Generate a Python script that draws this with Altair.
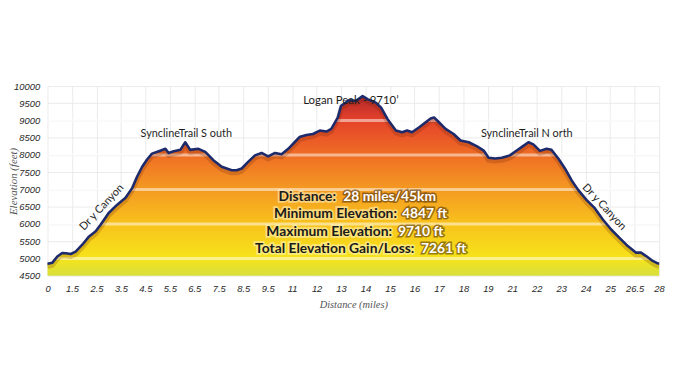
import altair as alt
import pandas as pd

# ---- data ----
tick_labels = ["0", "1.5", "2.5", "3.5", "4.5", "5.5", "6.5", "7.5", "8.5", "9.5",
               "11", "12", "13", "14", "15", "16", "17", "18", "19",
               "21", "22", "23", "24", "25", "26.5", "28"]

# position along the (evenly spaced) distance axis, in tick steps
pos = [0, 0.2, 0.4, 0.6, 0.75, 0.95, 1.15, 1.42, 1.7, 1.97, 2.17, 2.5, 2.85, 3.19,
       3.46, 3.66, 3.87, 4.07, 4.27, 4.55, 4.82, 4.95, 5.16, 5.43, 5.63, 5.83,
       6.17, 6.45, 6.78, 7.12, 7.53, 7.73, 7.94, 8.2, 8.48, 8.75, 9.02, 9.3,
       9.57, 9.84, 10.1, 10.3, 10.58, 10.85, 11.13, 11.4, 11.6, 11.87, 12.0,
       12.34, 12.61, 12.88, 13.08, 13.42, 13.63, 13.9, 14.24, 14.5, 14.7, 14.9,
       15.18, 15.46, 15.66, 15.8, 16.0, 16.27, 16.6, 16.88, 17.22, 17.56, 17.83,
       18.03, 18.3, 18.57, 18.9, 19.18, 19.38, 19.66, 19.86, 20.13, 20.4, 20.6,
       20.88, 21.15, 21.42, 21.69, 22.03, 22.37, 22.7, 23.04, 23.38, 23.72,
       24.06, 24.26, 24.47, 24.74, 24.94, 25.0]
elev = [4850, 4880, 5060, 5160, 5150, 5130, 5200, 5400, 5640, 5790, 5980, 6320,
        6560, 6760, 7040, 7370, 7660, 7870, 8040, 8110, 8180, 8060, 8110, 8150,
        8370, 8150, 8180, 8090, 7850, 7660, 7560, 7560, 7610, 7800, 7990, 8060,
        7960, 8060, 8020, 8180, 8370, 8520, 8580, 8610, 8710, 8680, 8760, 9090,
        9430, 9590, 9570, 9710, 9620, 9520, 9380, 9040, 8710, 8660, 8710, 8660,
        8800, 8950, 9060, 9090, 8950, 8760, 8610, 8420, 8370, 8250, 8130, 7920,
        7900, 7920, 7990, 8130, 8230, 8370, 8310, 8120, 8180, 8150, 7900, 7610,
        7270, 6990, 6700, 6460, 6130, 5840, 5600, 5360, 5170, 5170, 5070, 4930,
        4860, 4850]

stat_names = ["Distance:", "Minimum Elevation:", "Maximum Elevation:", "Total Elevation Gain/Loss:"]
stat_values = ["28 miles/45km", "4847 ft", "9710 ft", "7261 ft"]

place_names = ["Logan Peak - 9710\u2019", "SynclineTrail S outh", "SynclineTrail N orth"]

# ---- chart ----
W, H = 619, 192
YMIN, YMAX = 4500, 10000
df = pd.DataFrame({"pos": pos, "elev": elev})

label_expr = "[" + ",".join("'%s'" % t for t in tick_labels) + "][datum.value]"
xscale = alt.Scale(domain=[0, len(tick_labels) - 1], nice=False, zero=False)
yscale = alt.Scale(domain=[YMIN, YMAX], nice=False, zero=False)

X = alt.X("pos:Q", scale=xscale, axis=alt.Axis(
    values=list(range(len(tick_labels))), labelExpr=label_expr,
    title="Distance (miles)", labelOverlap=False))
Y = alt.Y("elev:Q", scale=yscale, axis=alt.Axis(
    values=list(range(YMIN, YMAX + 1, 500)), format="d",
    title="Elevation (feet)", labelOverlap=False,
    titleX=-34, titleY=H / 2, titleBaseline="middle", titleAngle=270))

def off(e):
    return (e - YMIN) / (max(elev) - YMIN)

grad = alt.Gradient(
    gradient="linear", x1=0, x2=0, y1=1, y2=0,
    stops=[
        alt.GradientStop(offset=0.0, color="#d6df3e"),
        alt.GradientStop(offset=off(5000), color="#f6e41a"),
        alt.GradientStop(offset=off(6000), color="#f8c21c"),
        alt.GradientStop(offset=off(7000), color="#f49a22"),
        alt.GradientStop(offset=off(8000), color="#ef6e25"),
        alt.GradientStop(offset=off(9000), color="#e5432a"),
        alt.GradientStop(offset=1.0, color="#b3272b"),
    ])

base = alt.Chart(df)
area = base.mark_area(color=grad, line=False).encode(x=X, y=Y, y2=alt.datum(YMIN))

bands = alt.Chart(pd.DataFrame({"elev": list(range(5000, 9001, 1000))})).mark_rule(
    color="white", strokeWidth=3, opacity=0.5).encode(y=Y)

shadow = base.transform_calculate(elev="datum.elev - 75").mark_line(
    color="#6a2406", strokeWidth=5, opacity=0.22, strokeJoin="round").encode(x=X, y=Y)

line = base.mark_line(color="#1d2a6b", strokeWidth=2.6, strokeJoin="round").encode(x=X, y=Y)

# place-name annotations
ann = pd.DataFrame({
    "t": place_names + ["Dr y Canyon", "Dr y Canyon"],
    "pos": [12.4, 5.67, 19.59, 2.22, 22.75],
    "elev": [9570, 8600, 8620, 6480, 6490],
    "ang": [0, 0, 0, -47, 47],
})
ann_layers = []
for i, r in ann.iterrows():
    ann_layers.append(alt.Chart(ann.iloc[[i]]).mark_text(
        font="Lato", fontSize=11 if i else 11.5, color="#1e1e1e", baseline="middle",
        angle=(r["ang"] % 360)).encode(x=X, y=Y, text="t:N"))

# statistics block
stat_y = [6783, 6281, 5778, 5275]
name_dx = [-17.5, 44.2, 39.2, 61.8]
val_dx = [-10.2, 49.2, 45.2, 68.5]
center_pos = (len(tick_labels) - 1) / 2
stat_layers = []
for i in range(len(stat_names)):
    d = pd.DataFrame({"t": [stat_names[i]], "v": [stat_values[i]],
                      "pos": [center_pos], "elev": [stat_y[i]]})
    c = alt.Chart(d)
    common = dict(font="Lato", fontSize=14, fontWeight="bold", baseline="middle")
    stat_layers += [
        c.mark_text(align="right", dx=name_dx[i], color="#fff6c8", stroke="#fff6c8",
                    strokeWidth=3.5, opacity=0.55, **common).encode(text="t:N", x=X, y=Y),
        c.mark_text(align="right", dx=name_dx[i], color="#1a1a1a", **common).encode(text="t:N", x=X, y=Y),
        c.mark_text(align="left", dx=val_dx[i], color="#3a1a00", stroke="#3a1a00",
                    strokeWidth=3, opacity=0.5, **common).encode(text="v:N", x=X, y=Y),
        c.mark_text(align="left", dx=val_dx[i], color="#ffffff", **common).encode(text="v:N", x=X, y=Y),
    ]

chart = alt.layer(area, bands, shadow, line, *ann_layers, *stat_layers).properties(
    width=W, height=H,
    autosize=alt.AutoSizeParams(type="none"),
    padding={"left": 40, "top": 77, "right": 8, "bottom": 60},
    background="white",
).configure_view(stroke=None).configure_axis(
    labelOverlap=False, labelBound=False, labelFlush=False,
    grid=True, ticks=False, domain=False,
    gridColor="#e6e6e6", gridWidth=0.8,
    labelFont="Liberation Sans", labelFontStyle="italic", labelFontSize=9.5,
    labelColor="#2a2a2a", labelPadding=8,
    titleFont="Liberation Serif", titleFontStyle="italic", titleFontWeight="normal",
    titleColor="#555555",
).configure_axisX(titleFontSize=10.5, titlePadding=7).configure_axisY(titleFontSize=11)

chart.save("out.html", embed_options={"renderer": "svg", "actions": False})
